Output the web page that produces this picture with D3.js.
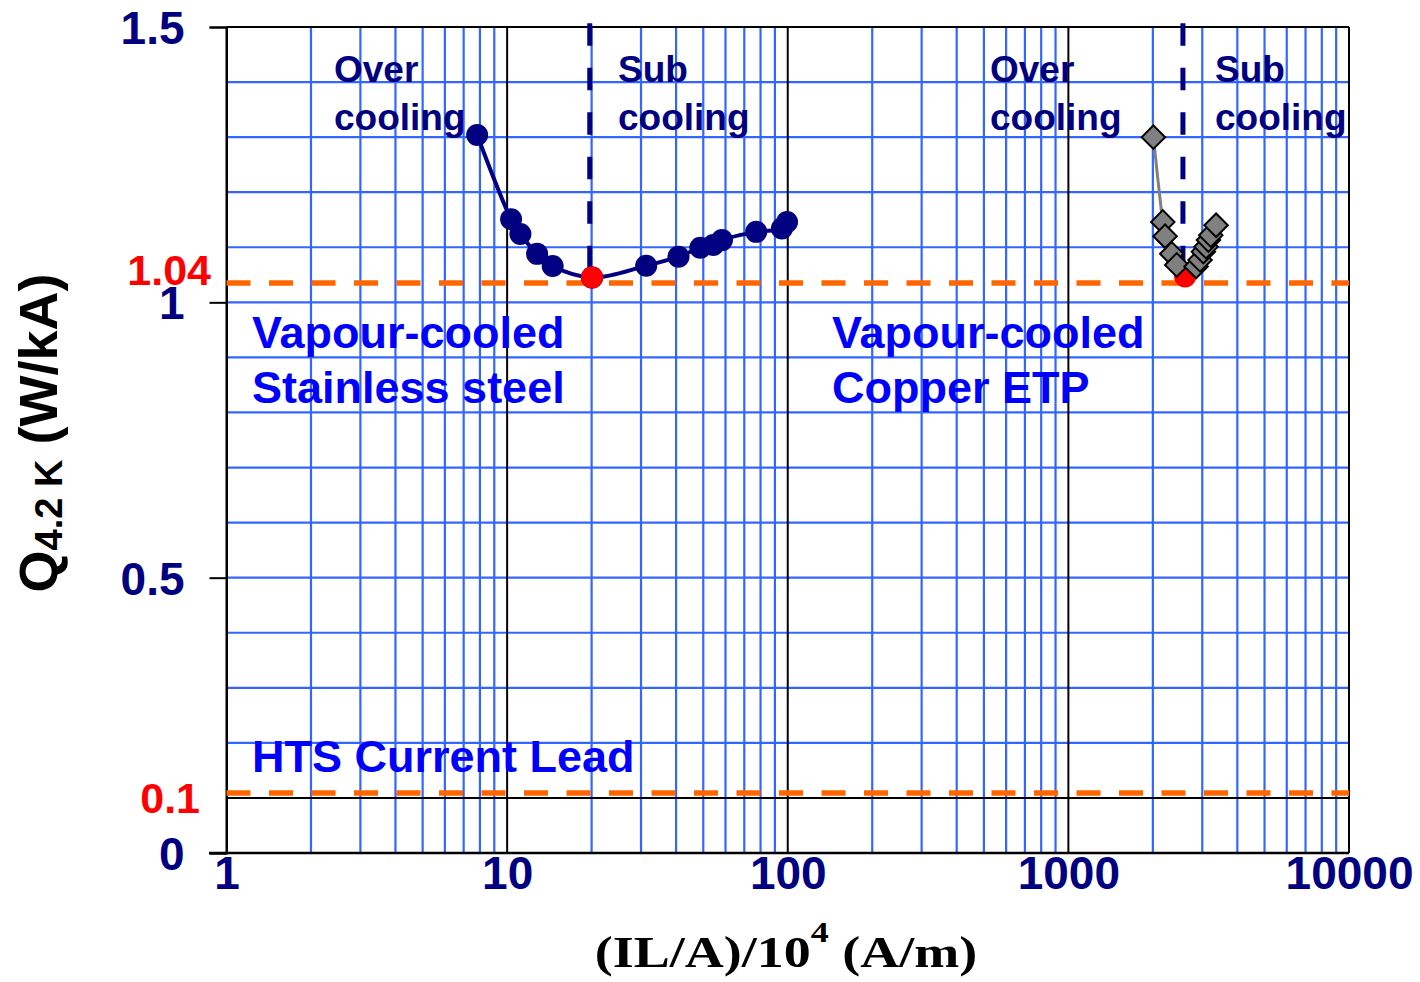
<!DOCTYPE html>
<html><head><meta charset="utf-8">
<script src="https://cdn.jsdelivr.net/npm/d3@7"></script>
<style>body{margin:0;background:#fff}</style></head>
<body><svg id="c" width="1420" height="982"></svg>
<script>
// ---- data ----
const xTickValues = [1, 10, 100, 1000, 10000];
const yTickValues = [0, 0.5, 1, 1.5];
const ssX = [7.82, 10.33, 11.15, 12.79, 14.53, 20.07, 31.3, 40.8, 48.8, 54.3, 58.3, 77.2, 95.3, 99.4];
const ssY = [1.304, 1.151, 1.124, 1.088, 1.066, 1.045, 1.0665, 1.083, 1.099, 1.104, 1.113, 1.128, 1.134, 1.146];
const cuX = [2009, 2170, 2211, 2336, 2433, 2851, 2946, 3027, 3095, 3155, 3217, 3360];
const cuY = [1.300, 1.146, 1.120, 1.088, 1.068, 1.065, 1.077, 1.092, 1.101, 1.113, 1.122, 1.140];
const optX = [20.07, 2606];
const optY = [1.045, 1.047];
const limitY = [1.035, 0.109];
const limitLabels = ["1.04", "0.1"];
const regionX = [19.7, 2560];
const regionY = [1.507, 1.035];

// ---- setup ----
const svg = d3.select("#c");
svg.append("rect").attr("width",1420).attr("height",982).attr("fill","#fff");
const x = d3.scaleLog().domain([1,10000]).range([226.5,1349]);
const y = d3.scaleLinear().domain([0,1.5]).range([853,27]);
const GRID = "#3366FF", NAVY = "#000080", BLUE = "#0000FF", ORANGE = "#FF6600", RED = "#FF0000";
const SANS = "'Liberation Sans', Arial, sans-serif";

// gridlines
const g = svg.append("g");
const minorX = x.ticks().filter(v => !xTickValues.includes(v));
g.selectAll(".vx").data(minorX).join("line")
  .attr("x1", d => x(d)).attr("x2", d => x(d)).attr("y1", y(1.5)).attr("y2", y(0))
  .attr("stroke", GRID).attr("stroke-width", 2.2);
const hY = d3.range(2, 15).map(i => i / 10);
g.selectAll(".hy").data(hY).join("line")
  .attr("x1", x(1)).attr("x2", x(10000)).attr("y1", d => y(d)).attr("y2", d => y(d))
  .attr("stroke", GRID).attr("stroke-width", 2.2);
// black decade lines and 0.1 line
g.selectAll(".dx").data(xTickValues).join("line")
  .attr("x1", d => x(d)).attr("x2", d => x(d)).attr("y1", y(1.5)).attr("y2", y(0))
  .attr("stroke", "#000").attr("stroke-width", 2);
g.append("line").attr("x1", x(1)).attr("x2", x(10000)).attr("y1", y(0.1)).attr("y2", y(0.1))
  .attr("stroke", "#000").attr("stroke-width", 2);
g.append("line").attr("x1", x(1)).attr("x2", x(10000)).attr("y1", y(1.5)).attr("y2", y(1.5))
  .attr("stroke", "#000").attr("stroke-width", 2);

// axes
const yAxis = d3.axisLeft(y).tickValues(yTickValues).tickSize(17).tickPadding(25)
  .tickFormat(d => d3.format("")(d));
const ya = svg.append("g").attr("transform", `translate(${x(1)},0)`).call(yAxis);
ya.select(".domain").attr("stroke", "#000").attr("stroke-width", 2);
ya.selectAll(".tick line").attr("stroke", "#000").attr("stroke-width", 2);
ya.selectAll(".tick text").attr("fill", NAVY).attr("font-family", SANS)
  .attr("font-weight", "bold").attr("font-size", 46).attr("dy", "0.36em");

const xAxis = d3.axisBottom(x).tickValues(xTickValues).tickSizeInner(0).tickSizeOuter(0).tickPadding(3)
  .tickFormat(d3.format(""));
const xa = svg.append("g").attr("transform", `translate(0,${y(0)})`).call(xAxis);
xa.select(".domain").remove();
xa.selectAll(".tick text").attr("fill", NAVY).attr("font-family", SANS)
  .attr("font-weight", "bold").attr("font-size", 46);
svg.append("line").attr("x1", 209).attr("x2", x(10000)).attr("y1", y(0)).attr("y2", y(0))
  .attr("stroke", "#000").attr("stroke-width", 2.5);

// orange limit lines
svg.selectAll(".lim").data(limitY).join("line")
  .attr("x1", x(1)).attr("x2", x(10000)).attr("y1", d => y(d)).attr("y2", d => y(d))
  .attr("stroke", ORANGE).attr("stroke-width", 5.5).attr("stroke-dasharray", "24,18.5");
svg.selectAll(".liml").data(limitY).join("text")
  .attr("x", (d, i) => i === 0 ? 211 : 200)
  .attr("y", (d, i) => i === 0 ? 285 : 813)
  .attr("text-anchor", "end").attr("fill", RED).attr("font-family", SANS)
  .attr("font-weight", "bold").attr("font-size", 43)
  .text((d, i) => limitLabels[i]);

// annotations
function txt(tx, ty, s, size, col) {
  svg.append("text").attr("x", tx).attr("y", ty).attr("font-family", SANS)
    .attr("font-weight", "bold").attr("font-size", size).attr("fill", col).text(s);
}
txt(334, 82, "Over", 37, NAVY); txt(334, 130, "cooling", 37, NAVY);
txt(618, 82, "Sub", 37, NAVY); txt(618, 130, "cooling", 37, NAVY);
txt(990, 82, "Over", 37, NAVY); txt(990, 130, "cooling", 37, NAVY);
txt(1215, 82, "Sub", 37, NAVY); txt(1215, 130, "cooling", 37, NAVY);
txt(252, 348, "Vapour-cooled", 45, BLUE); txt(252, 403, "Stainless steel", 45, BLUE);
txt(832, 348, "Vapour-cooled", 45, BLUE); txt(832, 403, "Copper ETP", 45, BLUE);
txt(252, 772, "HTS Current Lead", 45, BLUE);

// series
const ss = ssX.map((v, i) => [v, ssY[i]]);
const cu = cuX.map((v, i) => [v, cuY[i]]);
svg.append("path").datum(ss)
  .attr("d", d3.line().x(d => x(d[0])).y(d => y(d[1])).curve(d3.curveCatmullRom.alpha(0.5)))
  .attr("fill", "none").attr("stroke", NAVY).attr("stroke-width", 4);
svg.append("path").datum(cu)
  .attr("d", d3.line().x(d => x(d[0])).y(d => y(d[1])).curve(d3.curveCatmullRom.alpha(0.5)))
  .attr("fill", "none").attr("stroke", "#808080").attr("stroke-width", 3);

// optimum points
svg.selectAll(".opt").data(optX).join("circle")
  .attr("cx", d => x(d)).attr("cy", (d, i) => y(optY[i])).attr("r", 11).attr("fill", RED);

// region dividers
svg.selectAll(".reg").data(regionX).join("line")
  .attr("x1", d => x(d)).attr("x2", d => x(d)).attr("y1", y(regionY[0])).attr("y2", y(regionY[1]))
  .attr("stroke", NAVY).attr("stroke-width", 5).attr("stroke-dasharray", "22.5,22");

svg.selectAll(".ssp").data(ss).join("circle")
  .attr("cx", d => x(d[0])).attr("cy", d => y(d[1])).attr("r", 11).attr("fill", NAVY);
svg.selectAll(".ssr").data([ss[5]]).join("circle")
  .attr("cx", d => x(d[0])).attr("cy", d => y(d[1])).attr("r", 11).attr("fill", RED);
const dia = d3.symbol().type(d3.symbolSquare).size(275);
svg.selectAll(".cup").data(cu).join("path")
  .attr("d", dia).attr("transform", d => `translate(${x(d[0])},${y(d[1])}) rotate(45)`)
  .attr("fill", "#808080").attr("stroke", "#000").attr("stroke-width", 2);

// axis titles
const yt = svg.append("text").attr("transform", "translate(57,433) rotate(-90)")
  .attr("text-anchor", "middle").attr("font-family", SANS).attr("font-weight", "bold")
  .attr("font-size", 54).attr("fill", "#000");
yt.append("tspan").text("Q");
yt.append("tspan").attr("font-size", 38).attr("dy", 5).text("4.2 K");
yt.append("tspan").attr("dy", -5).text(" (W/kA)");

const xt = svg.append("text").attr("transform", "translate(786,967) scale(1.2,1)")
  .attr("text-anchor", "middle").attr("font-family", "'Liberation Serif', 'Times New Roman', serif")
  .attr("font-weight", "bold").attr("font-size", 45).attr("fill", "#000");
xt.append("tspan").text("(IL/A)/10");
xt.append("tspan").attr("font-size", 30).attr("dy", -25).text("4");
xt.append("tspan").attr("dy", 25).text(" (A/m)");
</script>
</body></html>
